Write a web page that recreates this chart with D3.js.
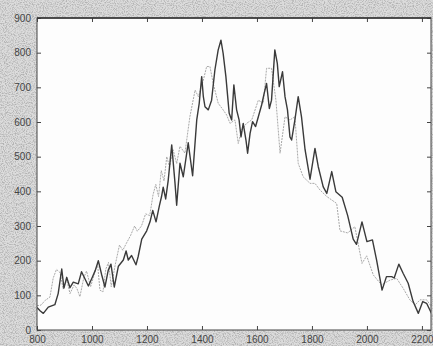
<!DOCTYPE html>
<html>
<head>
<meta charset="utf-8">
<script src="https://cdn.jsdelivr.net/npm/d3@7"></script>
<style>
  html, body { margin: 0; padding: 0; background: #d2d2d2; }
  svg { display: block; }
  .tick text { font-family: "Liberation Sans", Arial, sans-serif; font-size: 10px; fill: #444; }
</style>
</head>
<body>
<svg id="chart" width="433" height="346"></svg>
<script>
// x positions (wavenumber-ish) and values for the dark trace
const darkX = [800, 812, 823, 841, 865, 877, 890, 898, 908, 920, 932, 950, 962, 987, 1000, 1012, 1023, 1035, 1047, 1059,
  1069, 1081, 1096, 1114, 1124, 1132, 1144, 1160, 1168, 1181, 1199, 1211, 1221, 1233, 1245, 1253, 1259, 1268, 1277, 1290,
  1302, 1308, 1320, 1332, 1350, 1366, 1381, 1390, 1399, 1405, 1411, 1423, 1435, 1447, 1459, 1469, 1477, 1487, 1499, 1508,
  1516, 1526, 1535, 1542, 1550, 1560, 1566, 1575, 1584, 1595, 1605, 1617, 1625, 1635, 1645, 1653, 1665, 1674, 1681, 1693,
  1702, 1711, 1720, 1726, 1738, 1750, 1762, 1775, 1793, 1811, 1823, 1841, 1854, 1872, 1887, 1910, 1930, 1950, 1962, 1982,
  2000, 2020, 2035, 2055, 2071, 2090, 2099, 2116, 2132, 2150, 2168, 2187, 2203, 2217, 2235];
const darkY = [65, 55, 48, 66, 73, 105, 176, 121, 152, 122, 138, 133, 168, 127, 150, 172, 200, 160, 124, 172,
  190, 124, 184, 202, 228, 202, 215, 188, 212, 262, 286, 312, 345, 312, 358, 385, 412, 378, 430, 534,
  423, 360, 481, 442, 540, 445, 606, 654, 731, 673, 644, 635, 663, 750, 808, 836, 798, 731, 625, 606,
  707, 635, 606, 557, 596, 548, 510, 567, 601, 587, 615, 649, 678, 711, 639, 663, 808, 769, 702, 745,
  673, 635, 557, 548, 606, 673, 615, 520, 435, 524, 471, 413, 394, 457, 399, 383, 330, 262, 247, 312,
  255, 260, 202, 115, 154, 154, 150, 190, 163, 135, 82, 48, 82, 77, 48];

// light (gray) trace
const lightX = [800, 815, 829, 847, 859, 871, 884, 895, 908, 920, 935, 945, 956, 970, 980, 995, 1010, 1020, 1029, 1040,
  1050, 1060, 1070, 1085, 1100, 1112, 1125, 1140, 1155, 1165, 1180, 1195, 1210, 1222, 1232, 1242, 1252, 1262, 1272, 1282,
  1295, 1308, 1320, 1338, 1356, 1375, 1387, 1405, 1417, 1429, 1441, 1459, 1477, 1490, 1502, 1520, 1532, 1544, 1562, 1581,
  1605, 1623, 1635, 1653, 1669, 1684, 1702, 1720, 1738, 1750, 1768, 1793, 1811, 1829, 1854, 1872, 1890, 1902, 1930, 1956,
  1982, 1999, 2023, 2053, 2084, 2108, 2132, 2156, 2175, 2193, 2217, 2235];
const lightY = [70, 72, 85, 95, 150, 175, 165, 118, 145, 105, 130, 120, 96, 150, 170, 125, 165, 192, 115, 110,
  175, 195, 125, 190, 245, 230, 250, 272, 300, 285, 300, 335, 330, 390, 420, 385, 460, 430, 500, 470,
  520, 480, 530, 510, 615, 692, 673, 721, 760, 760, 711, 654, 635, 620, 596, 606, 538, 577, 596, 606,
  663, 654, 755, 755, 663, 510, 615, 606, 615, 481, 442, 423, 423, 404, 385, 375, 365, 286, 280, 298,
  192, 214, 159, 130, 144, 149, 120, 87, 72, 87, 87, 67];

const xTicks = [800, 1000, 1200, 1400, 1600, 1800, 2000, 2200];
const yTicks = [0, 100, 200, 300, 400, 500, 600, 700, 800, 900];

const svg = d3.select("#chart");
const m = { left: 37, right: 431, top: 18, bottom: 330 };

// speckled scan look for the margin
const defs = svg.append("defs");
const f = defs.append("filter").attr("id", "grain")
  .attr("filterUnits", "userSpaceOnUse").attr("x", 0).attr("y", 0).attr("width", 433).attr("height", 346);
f.append("feTurbulence").attr("type", "fractalNoise").attr("baseFrequency", 0.9).attr("numOctaves", 2).attr("seed", 7).attr("result", "n");
f.append("feColorMatrix").attr("in", "n").attr("type", "matrix")
  .attr("values", "0 0 0 0 0.45  0 0 0 0 0.45  0 0 0 0 0.45  3.2 0 0 0 -1.35");
defs.append("clipPath").attr("id", "plotclip").append("rect")
  .attr("x", m.left).attr("y", m.top).attr("width", m.right - m.left).attr("height", m.bottom - m.top);

svg.append("rect").attr("width", 433).attr("height", 346).attr("fill", "#dcdcdc");
svg.append("rect").attr("width", 433).attr("height", 346).attr("fill", "#fff").attr("filter", "url(#grain)");

svg.append("rect")
  .attr("x", m.left).attr("y", m.top).attr("width", m.right - m.left).attr("height", m.bottom - m.top)
  .attr("fill", "#fdfdfd");

const x = d3.scaleLinear().domain([800, 2233]).range([m.left, m.right]);
const y = d3.scaleLinear().domain([0, 900]).range([m.bottom, m.top]);

const line = d3.line().x(d => x(d[0])).y(d => y(d[1]));
const darkData = darkX.map((v, i) => [v, darkY[i]]);
const lightData = lightX.map((v, i) => [v, lightY[i]]);

const plot = svg.append("g").attr("clip-path", "url(#plotclip)");
plot.append("path").datum(lightData)
  .attr("d", line).attr("fill", "none")
  .attr("stroke", "#a8a8a8").attr("stroke-width", 1).attr("stroke-dasharray", "2,1");
plot.append("path").datum(darkData)
  .attr("d", line).attr("fill", "none")
  .attr("stroke", "#3a3a3a").attr("stroke-width", 1.4).attr("stroke-linejoin", "round");

// axes with inward ticks
const axColor = "#444";
const gx = svg.append("g").attr("transform", `translate(0,${m.bottom})`)
  .call(d3.axisBottom(x).tickValues(xTicks).tickSize(-4).tickPadding(6).tickFormat(d3.format("d")));
const gxt = svg.append("g").attr("transform", `translate(0,${m.top})`)
  .call(d3.axisTop(x).tickValues(xTicks).tickSize(-4).tickFormat(""));
const gy = svg.append("g").attr("transform", `translate(${m.left},0)`)
  .call(d3.axisLeft(y).tickValues(yTicks).tickSize(-4).tickPadding(6).tickFormat(d3.format("d")));
const gyr = svg.append("g").attr("transform", `translate(${m.right},0)`)
  .call(d3.axisRight(y).tickValues(yTicks).tickSize(-4).tickFormat(""));

[gx, gxt, gy, gyr].forEach(g => {
  g.select(".domain").remove();
  g.selectAll(".tick line").attr("stroke", axColor);
});

svg.append("rect")
  .attr("x", m.left).attr("y", m.top).attr("width", m.right - m.left).attr("height", m.bottom - m.top)
  .attr("fill", "none").attr("stroke", axColor).attr("stroke-width", 1);
svg.append("line").attr("x1", m.left).attr("x2", m.right).attr("y1", m.top).attr("y2", m.top)
  .attr("stroke", "#333").attr("stroke-width", 1.5);
</script>
</body>
</html>
